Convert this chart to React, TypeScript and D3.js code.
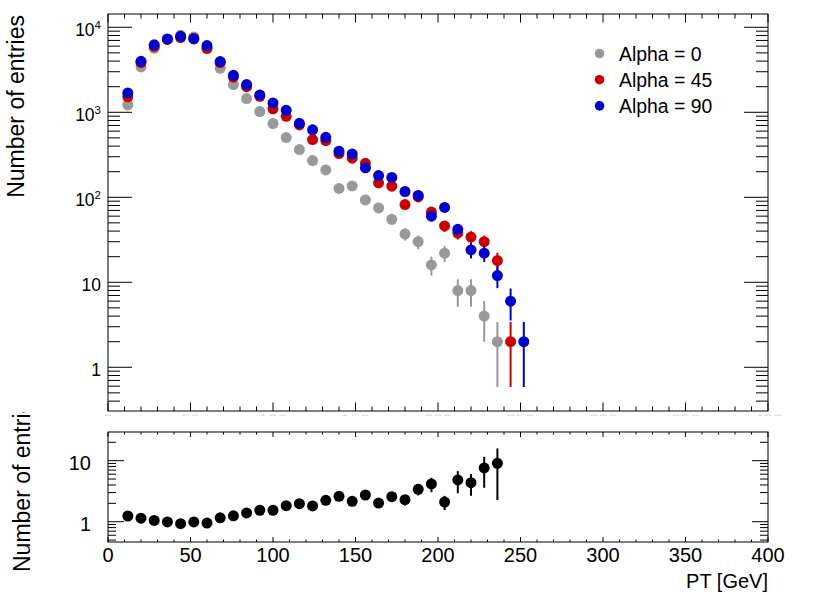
import React from 'react';
import * as d3 from 'd3';

// bin centres in GeV (8 GeV wide bins)
const binCenters = [
  12, 20, 28, 36, 44, 52, 60, 68, 76, 84, 92, 100, 108, 116, 124, 132, 140,
  148, 156, 164, 172, 180, 188, 196, 204, 212, 220, 228, 236, 244, 252,
];

const alpha0 = [
  1220, 3420, 5660, 7200, 8050, 7710, 5600, 3290, 2120, 1450, 1020, 736, 504,
  364, 270, 210, 127, 136, 93, 75, 55, 37, 30, 16, 22, 8, 8, 4, 2, 0, 0,
];
const alpha45 = [
  1518, 3850, 5950, 7200, 7570, 7400, 5660, 3850, 2590, 2000, 1540, 1100, 897,
  710, 477, 465, 327, 288, 251, 148, 135, 82, 101, 67, 46, 38, 34, 30, 18, 2, 0,
];
const alpha90 = [
  1690, 3980, 6210, 7300, 7830, 7300, 6090, 3950, 2720, 2120, 1600, 1290, 1056,
  742, 621, 508, 348, 324, 222, 180, 171, 117, 105, 60, 76, 42, 24, 22, 12, 6, 2,
];

// lower pad (bins 12 .. 236)
const ratioValues = [
  1.24, 1.14, 1.05, 0.99, 0.93, 0.99, 0.95, 1.16, 1.25, 1.39, 1.54, 1.54, 1.83,
  1.97, 1.81, 2.24, 2.61, 2.16, 2.74, 2.02, 2.57, 2.3, 3.4, 4.15, 2.1, 4.83,
  4.36, 7.6, 9.06,
];
const ratioErrors = [
  0.04, 0.03, 0.02, 0.02, 0.02, 0.02, 0.02, 0.03, 0.04, 0.05, 0.06, 0.07, 0.1,
  0.12, 0.13, 0.18, 0.27, 0.22, 0.32, 0.28, 0.4, 0.45, 0.7, 1.1, 0.55, 1.9, 1.7,
  4.0, 6.8,
];

const legendLabels = ['Alpha = 0', 'Alpha = 45', 'Alpha = 90'];
const seriesColors = ['#999999', '#cc0000', '#0000cc'];
const xTicks = [0, 50, 100, 150, 200, 250, 300, 350, 400];
const topYTicks = [1, 10, 100, 1000, 10000];
const ratioYTicks = [1, 10];

const font = "'Liberation Sans', Arial, Helvetica, sans-serif";

// frame geometry
const left = 108;
const right = 768;
const topY0 = 14;
const topY1 = 411;
const botY0 = 432;
const botY1 = 542;

const x = d3.scaleLinear().domain([0, 400]).range([left, right]);
const yTop = d3.scaleLog().domain([0.306, 14330]).range([topY1, topY0]);
const yBot = d3.scaleLog().domain([0.465, 29.5]).range([botY1, botY0]);

const minorX = d3.range(0, 401, 10).filter((v) => v % 50 !== 0);

const logMinors = (scale: d3.ScaleLogarithmic<number, number>) => {
  const [lo, hi] = scale.domain();
  const out: number[] = [];
  for (let k = -1; k <= 4; k++) {
    for (let m = 2; m <= 9; m++) {
      const v = m * Math.pow(10, k);
      if (v > lo && v < hi) out.push(v);
    }
  }
  return out;
};

const powerLabel = (v: number) => {
  if (v < 100) return <>{String(v)}</>;
  const exp = Math.round(Math.log10(v));
  return (
    <>
      10
      <tspan dy={-7} fontSize={11.5}>
        {exp}
      </tspan>
    </>
  );
};

const App: React.FC = () => {
  const series = [alpha0, alpha45, alpha90];

  return (
    <div style={{ position: 'absolute', left: 0, top: 0 }}>
      <svg width={830} height={596} style={{ display: 'block', background: '#fff' }} fontFamily={font}>
        <defs>
          <clipPath id="topClip">
            <rect x={left} y={topY0} width={right - left} height={topY1 - topY0} />
          </clipPath>
          <clipPath id="botClip">
            <rect x={left} y={botY0} width={right - left} height={botY1 - botY0} />
          </clipPath>
          <clipPath id="labelCut">
            <rect x={0} y={414.5} width={830} height={1.5} />
          </clipPath>
          <clipPath id="titleCut">
            <rect x={0} y={412} width={830} height={184} />
          </clipPath>
        </defs>

        {/* upper pad */}
        <g clipPath="url(#topClip)">
          {series.map((vals, si) => (
            <g key={si}>
              {binCenters.map((c, i) => {
                const v = vals[i];
                if (v <= 0) return null;
                const e = Math.sqrt(v);
                return (
                  <g key={i}>
                    <line
                      x1={x(c)}
                      x2={x(c)}
                      y1={yTop(v + e)}
                      y2={yTop(Math.max(v - e, 0.01))}
                      stroke={seriesColors[si]}
                      strokeWidth={2}
                    />
                    <circle cx={x(c)} cy={yTop(v)} r={5.5} fill={seriesColors[si]} />
                  </g>
                );
              })}
            </g>
          ))}
        </g>

        <rect x={left} y={topY0} width={right - left} height={topY1 - topY0} fill="none" stroke="#000" strokeWidth={1} />

        {/* x ticks upper pad */}
        {xTicks.map((t) => (
          <g key={'tx' + t} stroke="#000">
            <line x1={x(t)} x2={x(t)} y1={topY1} y2={topY1 - 8.5} />
            <line x1={x(t)} x2={x(t)} y1={topY0} y2={topY0 + 8.5} />
          </g>
        ))}
        {minorX.map((t) => (
          <g key={'mx' + t} stroke="#000">
            <line x1={x(t)} x2={x(t)} y1={topY1} y2={topY1 - 4.5} />
            <line x1={x(t)} x2={x(t)} y1={topY0} y2={topY0 + 4.5} />
          </g>
        ))}

        {/* y ticks upper pad */}
        {topYTicks.map((t) => (
          <g key={'ty' + t}>
            <line x1={left} x2={left + 24} y1={yTop(t)} y2={yTop(t)} stroke="#000" />
            <line x1={right} x2={right - 24} y1={yTop(t)} y2={yTop(t)} stroke="#000" />
            <text x={101} y={yTop(t) + 8.5} fontSize={17.5} textAnchor="end">
              {powerLabel(t)}
            </text>
          </g>
        ))}
        {logMinors(yTop).map((t) => (
          <g key={'my' + t} stroke="#000">
            <line x1={left} x2={left + 12} y1={yTop(t)} y2={yTop(t)} />
            <line x1={right} x2={right - 12} y1={yTop(t)} y2={yTop(t)} />
          </g>
        ))}

        {/* clipped x labels of the upper pad */}
        <g clipPath="url(#labelCut)" fill="#d8d8d8">
          {xTicks.map((t) => (
            <text key={'cl' + t} x={x(t)} y={426} fontSize={17} textAnchor="middle">
              {t}
            </text>
          ))}
        </g>

        <text transform="translate(24,15) rotate(-90)" fontSize={23} textAnchor="end">
          Number of entries
        </text>

        {/* legend */}
        {legendLabels.map((lab, i) => (
          <g key={lab}>
            <circle cx={599.5} cy={53.5 + i * 26.2} r={4.8} fill={seriesColors[i]} />
            <text x={619} y={60.5 + i * 26.2} fontSize={19.4}>
              {lab}
            </text>
          </g>
        ))}

        {/* lower pad */}
        <g clipPath="url(#botClip)">
          {ratioValues.map((r, i) => {
            const c = binCenters[i];
            const e = ratioErrors[i];
            return (
              <g key={i}>
                <line
                  x1={x(c)}
                  x2={x(c)}
                  y1={yBot(r + e)}
                  y2={yBot(Math.max(r - e, 0.01))}
                  stroke="#000"
                  strokeWidth={2}
                />
                <circle cx={x(c)} cy={yBot(r)} r={5.5} fill="#000" />
              </g>
            );
          })}
        </g>

        <rect x={left} y={botY0} width={right - left} height={botY1 - botY0} fill="none" stroke="#000" strokeWidth={1} />

        {xTicks.map((t) => (
          <g key={'bx' + t}>
            <line x1={x(t)} x2={x(t)} y1={botY1} y2={botY1 - 5} stroke="#000" />
            <line x1={x(t)} x2={x(t)} y1={botY0} y2={botY0 + 5} stroke="#000" />
            <text x={x(t)} y={562} fontSize={20} textAnchor="middle">
              {t}
            </text>
          </g>
        ))}
        {minorX.map((t) => (
          <g key={'bmx' + t} stroke="#000">
            <line x1={x(t)} x2={x(t)} y1={botY1} y2={botY1 - 2.5} />
            <line x1={x(t)} x2={x(t)} y1={botY0} y2={botY0 + 2.5} />
          </g>
        ))}

        {ratioYTicks.map((t) => (
          <g key={'by' + t}>
            <line x1={left} x2={left + 16} y1={yBot(t)} y2={yBot(t)} stroke="#000" />
            <line x1={right} x2={right - 16} y1={yBot(t)} y2={yBot(t)} stroke="#000" />
            <text x={91} y={yBot(t) + 9.3} fontSize={20} textAnchor="end">
              {t}
            </text>
          </g>
        ))}
        {logMinors(yBot).map((t) => (
          <g key={'bmy' + t} stroke="#000">
            <line x1={left} x2={left + 8} y1={yBot(t)} y2={yBot(t)} />
            <line x1={right} x2={right - 8} y1={yBot(t)} y2={yBot(t)} />
          </g>
        ))}

        <g clipPath="url(#titleCut)">
          <text transform="translate(30,572) rotate(-90)" fontSize={23} textAnchor="start">
            Number of entries
          </text>
        </g>

        <text x={768} y={588} fontSize={20} textAnchor="end">
          PT [GeV]
        </text>
      </svg>
    </div>
  );
};

export default App;
